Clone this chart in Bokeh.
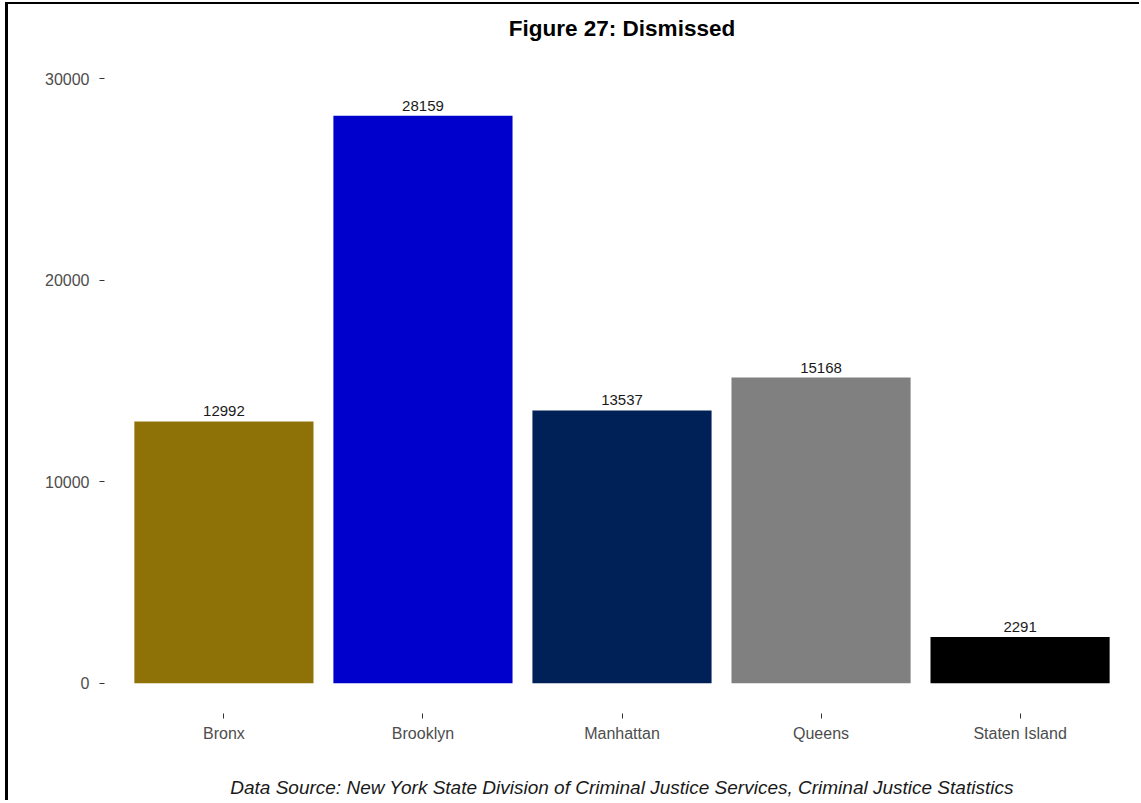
from bokeh.plotting import figure
from bokeh.models import ColumnDataSource, FixedTicker, Range1d, BasicTickFormatter
from bokeh.core.properties import value
from bokeh.embed import file_html
from bokeh.resources import INLINE

boroughs = ["Bronx", "Brooklyn", "Manhattan", "Queens", "Staten Island"]
dismissed = [12992, 28159, 13537, 15168, 2291]
bar_colors = ["#8E7207", "#0000CD", "#002157", "#808080", "#000000"]
y_ticks = [0, 10000, 20000, 30000]

title_text = "Figure 27: Dismissed"
caption_text = "Data Source: New York State Division of Criminal Justice Services, Criminal Justice Statistics"

FONT = "Liberation Sans"

src = ColumnDataSource(dict(
    borough=boroughs,
    count=dismissed,
    color=bar_colors,
    label=[str(v) for v in dismissed],
))

p = figure(
    x_range=boroughs,
    y_range=Range1d(-1500, 31500),
    frame_width=1035, frame_height=665,
    output_backend="svg", toolbar_location=None,
    min_border_left=96, min_border_right=0, min_border_top=44, min_border_bottom=0,
    styles={"border-top": "2px solid black", "border-left": "3px solid black",
            "margin-top": "2px", "margin-left": "5px"},
)
p.x_range.range_padding = 0.04

p.vbar(x="borough", top="count", width=0.9, color="color", line_color=None, source=src)

p.text(x="borough", y="count", text="label", source=src,
       text_align="center", text_baseline="bottom", y_offset=-5,
       text_font=value(FONT), text_font_size="15px", text_color="#1a1a1a")

p.title.text = title_text
p.title.align = "center"
p.title.text_font = FONT
p.title.text_font_size = "22.5px"
p.title.text_font_style = "bold"
p.title.text_color = "#000000"
p.title.standoff = 16

p.xgrid.grid_line_color = None
p.ygrid.grid_line_color = None
p.outline_line_color = None
p.background_fill_color = "white"
p.border_fill_color = "white"

for ax in (p.xaxis[0], p.yaxis[0]):
    ax.axis_line_color = None
    ax.major_tick_line_color = "#333333"
    ax.major_tick_in = 0
    ax.major_tick_out = 5
    ax.minor_tick_line_color = None
    ax.major_label_text_font = FONT
    ax.major_label_text_font_size = "16px"
    ax.major_label_text_color = "#4D4D4D"

xa = p.xaxis[0]
xa.major_label_standoff = 6
xa.axis_label = caption_text
xa.axis_label_text_font = FONT
xa.axis_label_text_font_size = "19px"
xa.axis_label_text_font_style = "italic"
xa.axis_label_text_color = "#1a1a1a"
xa.axis_label_standoff = 32

p.yaxis[0].major_label_standoff = 10
p.yaxis[0].ticker = FixedTicker(ticks=y_ticks)
p.yaxis[0].formatter = BasicTickFormatter(use_scientific=False)

open("out.html", "w").write(file_html(p, INLINE))
